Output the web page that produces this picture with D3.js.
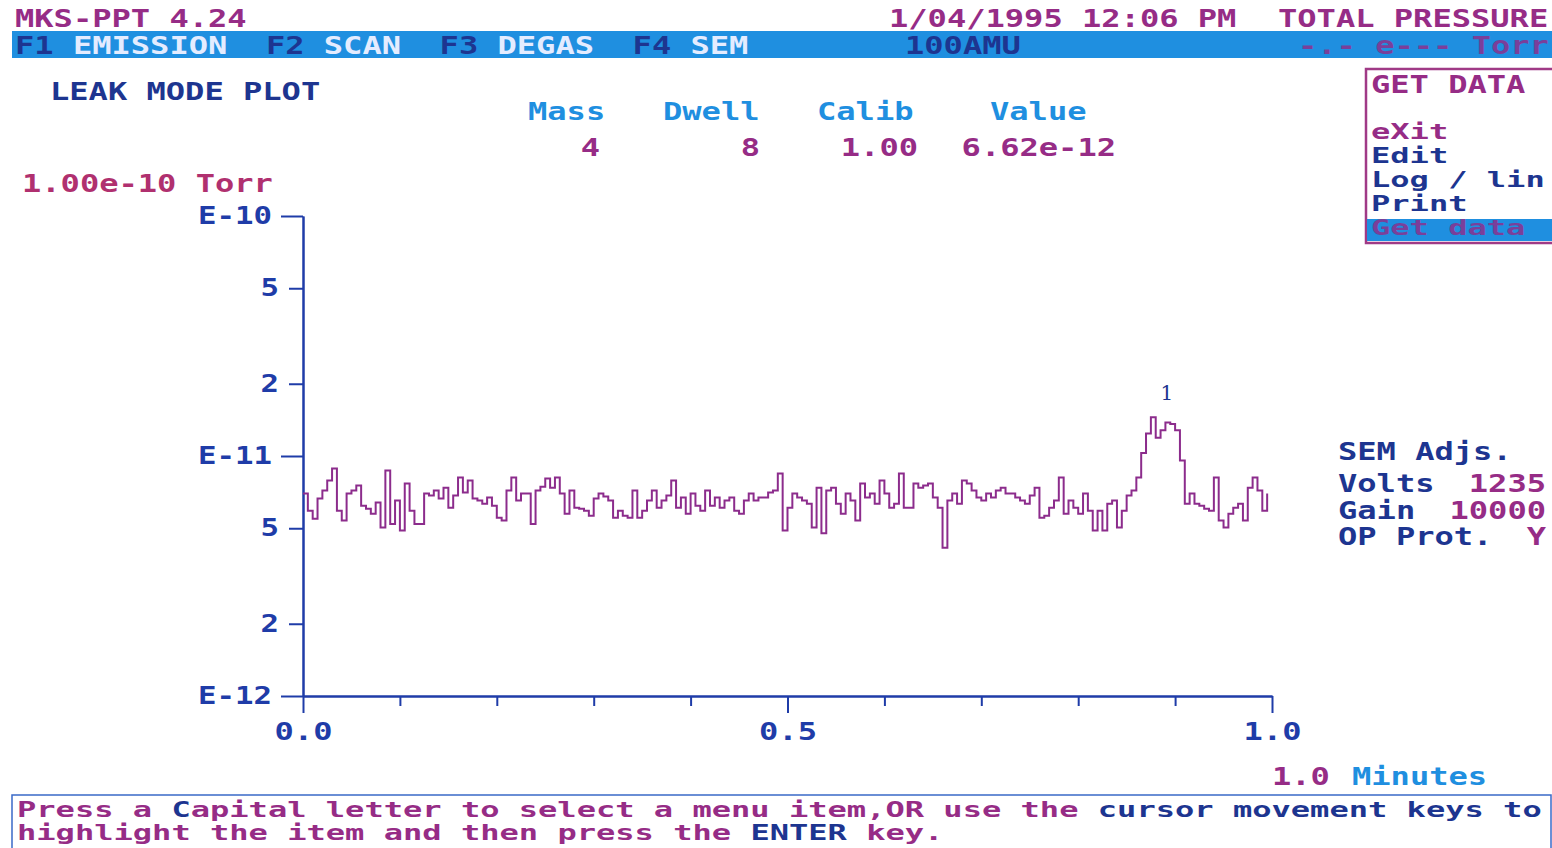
<!DOCTYPE html>
<html>
<head>
<meta charset="utf-8">
<script src="https://cdn.jsdelivr.net/npm/d3@7"></script>
<style>
  html, body { margin: 0; padding: 0; background: #fff; }
  svg text { font-family: "DejaVu Sans Mono", "Liberation Mono", monospace; font-weight: bold; font-size: 24px; white-space: pre; }
</style>
</head>
<body>
<div id="chart"></div>
<script>
// leak mode plot, mass 4 signal in units of 1e-12 Torr, one sample every 0.005 min
var sampleStep = 0.005;
var pressure = [
  6.97, 5.92, 5.48, 6.65, 7.18, 7.90, 8.86, 5.92, 5.38, 6.97,
  7.18, 7.53, 6.21, 6.03, 5.75, 6.40, 5.03, 8.70, 5.21, 6.52,
  4.89, 7.68, 5.92, 5.21, 5.21, 6.97, 6.84, 7.18, 6.65, 7.38,
  6.09, 6.84, 8.13, 7.04, 7.90, 6.65, 6.52, 6.33, 6.71, 6.21,
  5.53, 5.38, 7.18, 8.13, 6.52, 6.97, 6.97, 5.21, 7.18, 7.45,
  8.05, 7.38, 8.13, 6.97, 5.75, 7.18, 6.09, 6.03, 5.92, 5.64,
  6.65, 6.97, 6.78, 6.52, 5.53, 5.92, 5.64, 5.53, 7.18, 5.53,
  5.92, 6.52, 7.18, 6.09, 6.52, 6.84, 7.90, 6.09, 6.71, 5.75,
  6.97, 6.21, 5.92, 7.18, 6.21, 6.71, 6.09, 6.52, 6.71, 5.92,
  5.75, 6.52, 6.97, 6.52, 6.71, 6.71, 7.04, 7.18, 8.45, 4.89,
  6.09, 6.97, 6.71, 6.52, 6.33, 5.03, 7.38, 4.77, 7.18, 7.38,
  6.33, 5.75, 6.97, 6.52, 5.38, 7.68, 6.71, 6.97, 6.33, 7.90,
  6.97, 6.09, 6.33, 8.45, 6.09, 6.09, 7.68, 7.38, 7.53, 7.68,
  6.71, 6.09, 4.15, 6.52, 6.97, 6.33, 7.90, 7.68, 7.18, 6.71,
  6.52, 6.97, 6.71, 7.18, 7.38, 6.97, 6.97, 6.71, 6.52, 6.33,
  6.84, 7.38, 5.53, 5.64, 6.09, 6.52, 8.13, 5.75, 6.52, 6.09,
  5.75, 6.97, 5.92, 4.89, 5.92, 4.89, 6.33, 6.52, 5.03, 5.92,
  6.84, 7.18, 8.13, 10.3, 12.4, 14.5, 11.9, 12.8, 13.8, 13.6,
  12.8, 9.57, 6.33, 6.97, 6.33, 6.21, 6.03, 5.92, 8.13, 5.38,
  5.03, 5.75, 6.09, 6.33, 5.38, 7.38, 8.13, 7.18, 5.92, 6.97
];

var yDecadeTicks = [1e-10, 1e-11, 1e-12];
var yDecadeLabels = ['E-10', 'E-11', 'E-12'];
var yMinorTicks = [5e-11, 2e-11, 5e-12, 2e-12];
var yMinorLabels = ['5', '2', '5', '2'];
var xMinorTicks = [0.1, 0.2, 0.3, 0.4, 0.6, 0.7, 0.8, 0.9];
var xMajorTicks = [0.0, 0.5, 1.0];
var xMajorLabels = ['0.0', '0.5', '1.0'];

var menuKeys = ['F1', 'F2', 'F3', 'F4'];
var menuNames = ['EMISSION', 'SCAN', 'DEGAS', 'SEM'];
var menuCols = [0, 13, 22, 32];

var paramNames = ['Mass', 'Dwell', 'Calib', 'Value'];
var paramValues = ['4', '8', '1.00', '6.62e-12'];

var sideItems = ['eXit', 'Edit', 'Log / lin', 'Print', 'Get data'];
var semNames = ['Volts', 'Gain', 'OP Prot.'];
var semValues = ['1235', '10000', 'Y'];

var peakLabel = '1';
var peakIndex = 175;

var
  width = 1552,
  height = 848,
  CW = 19.3,
  purple = '#962c86',
  navy = '#1d3590',
  blue = '#1f8fe0',
  axisBlue = '#1f3ca8',
  lineColor = '#8c2c8c';

var svg = d3.select('#chart').append('svg')
  .attr('width', width)
  .attr('height', height);

function txt(x, y, str, color, anchor, size) {
  return svg.append('text')
    .attr('x', x)
    .attr('y', y)
    .attr('fill', color)
    .attr('text-anchor', anchor || 'start')
    .attr('textLength', str.length * CW)
    .attr('lengthAdjust', 'spacingAndGlyphs')
    .style('font-size', (size || 24) + 'px')
    .text(str);
}

// HEADER
txt(15, 27, 'MKS-PPT 4.24', purple);
txt(889, 27, '1/04/1995 12:06 PM', purple);
txt(1278, 27, 'TOTAL PRESSURE', purple);

svg.append('rect')
  .attr('x', 12).attr('y', 31)
  .attr('width', width - 12).attr('height', 27)
  .attr('fill', blue);

menuKeys.forEach(function (k, i) {
  var x0 = 15 + menuCols[i] * CW;
  txt(x0, 54, k, navy);
  txt(x0 + 3 * CW, 54, menuNames[i], '#e4ecff');
});
txt(905, 54, '100AMU', navy);
txt(1298, 54, '-.- e--- Torr', '#7a3f9a');

txt(50, 100, 'LEAK MODE PLOT', navy);

// PARAMETER TABLE
var paramX = [528, 663, 817, 990];
var valueRight = [600, 760, 918, 1116];
paramNames.forEach(function (p, i) {
  txt(paramX[i], 120, p, blue);
  txt(valueRight[i], 156, paramValues[i], purple, 'end');
});

txt(22, 192, '1.00e-10 Torr', '#b0306f');

// SCALES
var xScale = d3.scaleLinear().domain([0, 1]).range([303, 1272]);
var yScale = d3.scaleLog().domain([1e-12, 1e-10]).range([696, 216]);

// AXES
function styleLabels(g, cw) {
  g.selectAll('text')
    .attr('fill', axisBlue)
    .style('font-size', '24px')
    .style('font-family', '"DejaVu Sans Mono", monospace')
    .each(function () {
      var s = d3.select(this).text();
      d3.select(this).attr('textLength', s.length * cw).attr('lengthAdjust', 'spacingAndGlyphs');
    });
}

var yAxisMajor = d3.axisLeft(yScale)
  .tickValues(yDecadeTicks)
  .tickFormat(function (d, i) { return yDecadeLabels[i]; })
  .tickSize(22)
  .tickSizeOuter(0)
  .tickPadding(9);
var yAxisMinor = d3.axisLeft(yScale)
  .tickValues(yMinorTicks)
  .tickFormat(function (d, i) { return yMinorLabels[i]; })
  .tickSize(14)
  .tickSizeOuter(0)
  .tickPadding(10);

var gy = svg.append('g')
  .attr('transform', 'translate(' + xScale(0) + ',0)')
  .call(yAxisMajor);
styleLabels(gy, 18.5);
var gy2 = svg.append('g')
  .attr('transform', 'translate(' + xScale(0) + ',0)')
  .call(yAxisMinor);
styleLabels(gy2, 18.5);

var xMinor = d3.axisBottom(xScale)
  .tickValues(xMinorTicks)
  .tickFormat('')
  .tickSize(10)
  .tickSizeOuter(0);
var xMajor = d3.axisBottom(xScale)
  .tickValues(xMajorTicks)
  .tickFormat(function (d, i) { return xMajorLabels[i]; })
  .tickSize(17)
  .tickSizeOuter(0)
  .tickPadding(10);

svg.append('g')
  .attr('transform', 'translate(0,' + yScale(1e-12) + ')')
  .call(xMinor);
var gx = svg.append('g')
  .attr('transform', 'translate(0,' + yScale(1e-12) + ')')
  .call(xMajor);
styleLabels(gx, 19.3);

svg.selectAll('.domain, .tick line')
  .attr('stroke', axisBlue)
  .attr('stroke-width', 2);

// SIGNAL LINE
var line = d3.line()
  .x(function (d, i) { return xScale(i * sampleStep); })
  .y(function (d) { return yScale(d * 1e-12); })
  .curve(d3.curveStepAfter);

svg.append('path')
  .datum(pressure)
  .attr('d', line)
  .attr('fill', 'none')
  .attr('stroke', lineColor)
  .attr('stroke-width', 2);

svg.append('text')
  .attr('x', xScale(peakIndex * sampleStep) + 16)
  .attr('y', yScale(pressure[peakIndex] * 1e-12) - 17)
  .attr('fill', navy)
  .attr('text-anchor', 'middle')
  .style('font-family', '"DejaVu Serif", serif')
  .style('font-weight', 'normal')
  .style('font-size', '20px')
  .text(peakLabel);

// X UNITS
txt(1272, 785, '1.0', purple);
txt(1352, 785, 'Minutes', blue);

// SIDE MENU
svg.append('rect')
  .attr('x', 1366).attr('y', 69)
  .attr('width', 200).attr('height', 174)
  .attr('fill', 'none')
  .attr('stroke', '#a03a86')
  .attr('stroke-width', 2.5);
svg.append('rect')
  .attr('x', 1367).attr('y', 219)
  .attr('width', 190).attr('height', 22)
  .attr('fill', blue);
txt(1371, 93, 'GET DATA', purple);
sideItems.forEach(function (s, i) {
  var c = i === 0 ? purple : (i === 4 ? '#7a3f9a' : navy);
  txt(1371, 139 + i * 24, s, c, 'start', 22);
});

// SEM ADJUSTMENTS
txt(1338, 460, 'SEM Adjs.', navy);
semNames.forEach(function (s, i) {
  txt(1338, 492 + i * 26.5, s, navy);
  txt(1546, 492 + i * 26.5, semValues[i], purple, 'end');
});

// PROMPT BOX
svg.append('rect')
  .attr('x', 12).attr('y', 795)
  .attr('width', width - 13).attr('height', 60)
  .attr('fill', 'none')
  .attr('stroke', '#3a6ac8')
  .attr('stroke-width', 1.5);

var promptLines = [
  [['Press a ', purple], ['C', navy], ['apital letter to select a menu item,OR use the ', purple], ['cursor movement keys to', navy]],
  [['highlight the item and then press the ', purple], ['ENTER', navy], [' key.', purple]]
];
promptLines.forEach(function (parts, r) {
  var col = 0;
  parts.forEach(function (p) {
    txt(17 + col * CW, 817 + r * 23, p[0], p[1], 'start', 21);
    col += p[0].length;
  });
});
</script>
</body>
</html>
